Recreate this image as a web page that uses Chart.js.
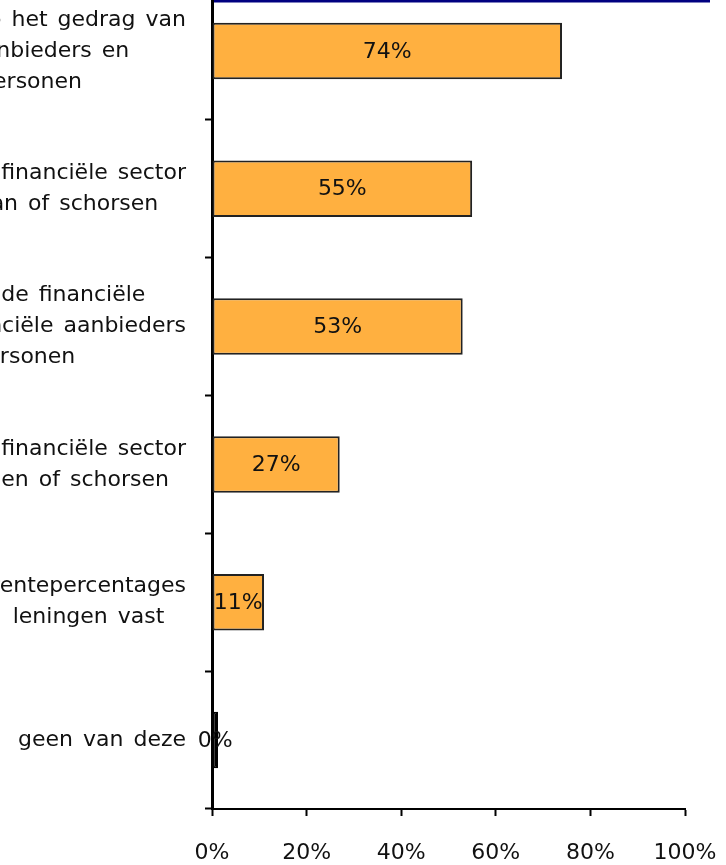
<!DOCTYPE html>
<html>
<head>
  <meta charset="utf-8">
  <title>Maatregelen financiële sector</title>
  <script src="https://cdn.jsdelivr.net/npm/chart.js"></script>
  <style>
    html, body { margin: 0; padding: 0; background: #fff; }
    #wrap { position: relative; width: 726px; height: 865px; overflow: hidden; }
    #chart { position: absolute; left: 0; top: -18px; }
  </style>
</head>
<body>
  <div id="wrap"><canvas id="chart" width="726" height="883"></canvas></div>
  <script>
    // category labels, one array of lines per bar (left part falls outside the picture)
    const categories = [
      ['Toezicht op het gedrag van', 'de aanbieders en', 'personen'],
      ['Bankiers financiële sector', 'ontslaan of schorsen'],
      ['Toezicht op de financiële', 'sector, de financiële aanbieders', 'en personen'],
      ['Directies financiële sector', 'vervangen of schorsen'],
      ['rentepercentages', 'leningen vast'],
      ['geen van deze']
    ];
    const values = [74, 55, 53, 27, 11, 0];
    const xTickValues = [0, 20, 40, 60, 80, 100];

    const FAMILY = "'DejaVu Sans', sans-serif";
    const ORANGE = '#FFB040';
    const SHIFT = 18; // canvas sits 18px above the page top

    // category labels: block right aligned to the axis, lines centred in the block
    const catLabels = {
      id: 'catLabels',
      afterDraw(chart) {
        const ctx = chart.ctx;
        const yScale = chart.scales.y;
        const right = chart.chartArea.left - 26;
        ctx.save();
        ctx.font = '22px ' + FAMILY;
        ctx.wordSpacing = '3px';
        ctx.fillStyle = '#111';
        ctx.textAlign = 'center';
        ctx.textBaseline = 'middle';
        categories.forEach((lines, i) => {
          const widest = Math.max(...lines.map(l => ctx.measureText(l).width));
          const cx = right - widest / 2;
          const cy = yScale.getPixelForValue(i);
          lines.forEach((l, j) => {
            ctx.fillText(l, cx, cy + (j - (lines.length - 1) / 2) * 31);
          });
        });
        // navy rule along the top edge
        ctx.fillStyle = '#000080';
        ctx.fillRect(chart.chartArea.left + 2, SHIFT, chart.chartArea.right - chart.chartArea.left + 23, 2.5);
        ctx.restore();
      }
    };

    // value labels in the middle of each bar
    const barLabels = {
      id: 'barLabels',
      afterDatasetsDraw(chart) {
        const ctx = chart.ctx;
        const meta = chart.getDatasetMeta(0);
        ctx.save();
        ctx.font = '22px ' + FAMILY;
        ctx.fillStyle = '#111';
        ctx.textAlign = 'center';
        ctx.textBaseline = 'middle';
        meta.data.forEach((bar, i) => {
          ctx.fillText(values[i] + '%', (bar.base + bar.x) / 2, bar.y + 1);
        });
        ctx.restore();
      }
    };

    const ctx = document.getElementById('chart').getContext('2d');
    new Chart(ctx, {
      type: 'bar',
      data: {
        labels: categories.map(c => c.join(' ')),
        datasets: [{
          data: values,
          backgroundColor: values.map(v => v === 0 ? '#000' : ORANGE),
          borderColor: values.map(v => v === 0 ? '#000' : '#222'),
          borderWidth: 2,
          borderSkipped: false,
          barPercentage: 0.41,
          categoryPercentage: 1,
          minBarLength: 6
        }]
      },
      options: {
        indexAxis: 'y',
        responsive: false,
        animation: false,
        layout: { padding: { left: 0, right: 41, top: 0, bottom: 0 } },
        plugins: { legend: { display: false }, tooltip: { enabled: false } },
        scales: {
          x: {
            min: 0,
            max: 100,
            afterBuildTicks: s => { s.ticks = xTickValues.map(v => ({ value: v })); },
            ticks: {
              callback: v => v + '%',
              color: '#111',
              font: { family: FAMILY, size: 22 },
              padding: 24,
              maxRotation: 0
            },
            grid: { drawOnChartArea: false, tickLength: 7, tickColor: '#000', tickWidth: 2 },
            border: { color: '#000', width: 2 },
            afterFit: s => { s.height = 56; s.paddingLeft = 0; s.paddingRight = 0; }
          },
          y: {
            ticks: { display: false },
            grid: { drawOnChartArea: false, tickLength: 7, tickColor: '#000', tickWidth: 2, offset: true },
            border: { color: '#000', width: 3 },
            afterFit: s => { s.width = 212; }
          }
        }
      },
      plugins: [catLabels, barLabels]
    });
  </script>
</body>
</html>
